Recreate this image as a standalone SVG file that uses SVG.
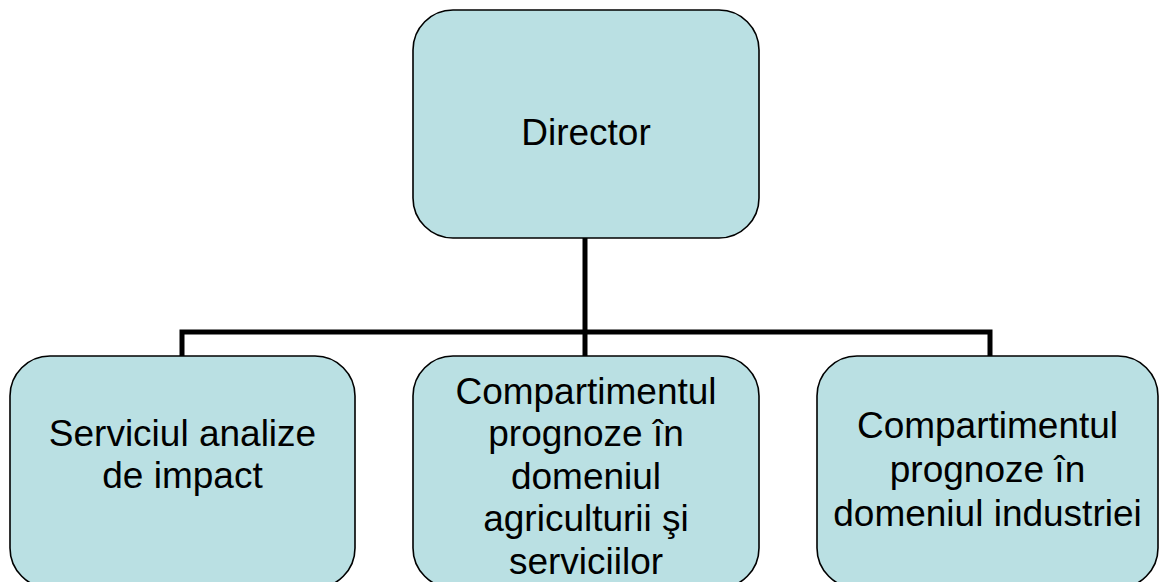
<svg xmlns="http://www.w3.org/2000/svg" width="1160" height="582" viewBox="0 0 1160 582">
  <style>
    .box { fill: #bae0e3; stroke: #000000; stroke-width: 1.6; }
    .label { font-family: "Liberation Sans", Arial, sans-serif; font-size: 37px; fill: #000000; text-anchor: middle; }
    .link { fill: none; stroke: #000000; stroke-width: 5; stroke-linejoin: miter; stroke-linecap: butt; }
  </style>
  <rect width="1160" height="582" fill="#ffffff"/>

  <!-- connectors -->
  <g id="connectors">
    <path class="link" d="M585 238 V332"/>
    <path class="link" d="M182 356 V332 H990 V356"/>
    <path class="link" d="M585 332 V356"/>
  </g>

  <g id="director">
    <rect class="box" x="413" y="10" width="346" height="228" rx="40" ry="40"/>
    <text class="label" x="586" y="145">Director</text>
  </g>

  <g id="serviciul-analize">
    <rect class="box" x="10" y="356" width="345" height="232" rx="40" ry="40"/>
    <text class="label" x="182.5" y="446">Serviciul analize</text>
    <text class="label" x="182.5" y="488">de impact</text>
  </g>

  <g id="compartiment-agricultura">
    <rect class="box" x="413" y="356" width="346" height="232" rx="40" ry="40"/>
    <text class="label" x="586" y="404">Compartimentul</text>
    <text class="label" x="586" y="446">prognoze în</text>
    <text class="label" x="586" y="489">domeniul</text>
    <text class="label" x="586" y="531">agriculturii şi</text>
    <text class="label" x="586" y="574">serviciilor</text>
  </g>

  <g id="compartiment-industrie">
    <rect class="box" x="817" y="356" width="341" height="232" rx="40" ry="40"/>
    <text class="label" x="987.5" y="438">Compartimentul</text>
    <text class="label" x="987.5" y="482">prognoze în</text>
    <text class="label" x="987.5" y="526">domeniul industriei</text>
  </g>
</svg>
